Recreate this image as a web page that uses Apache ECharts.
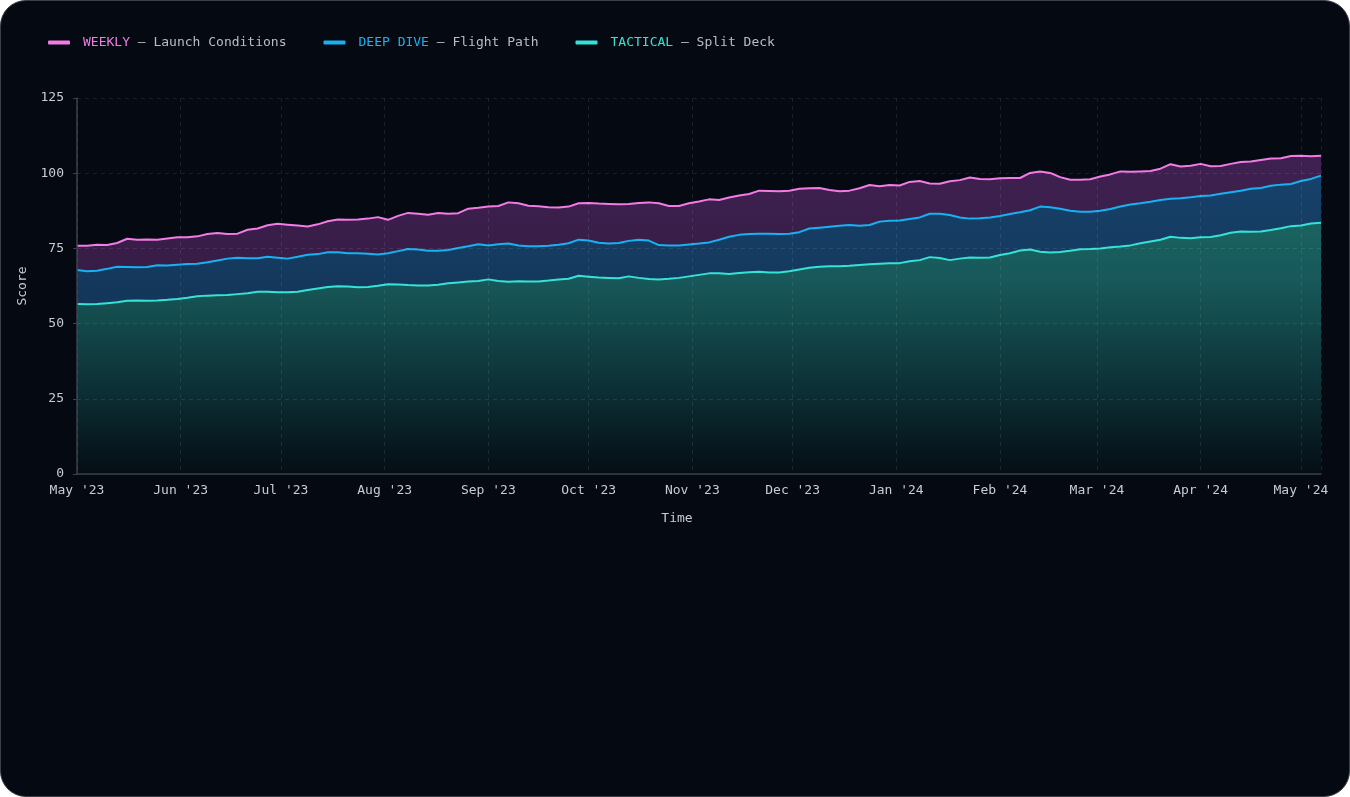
<!DOCTYPE html>
<html>
<head>
<meta charset="utf-8">
<title>Score over time</title>
<script src="https://cdn.jsdelivr.net/npm/echarts/dist/echarts.min.js"></script>
<style>
  html, body { margin: 0; padding: 0; background: #ffffff; }
  #card {
    width: 1350px; height: 797px; box-sizing: border-box;
    border-radius: 26px; border: 1px solid #3a3f48;
    background: #040912; overflow: hidden;
  }
  #main { width: 100%; height: 100%; }
</style>
</head>
<body>
<div id="card"><div id="main"></div></div>
<script>
// one reading every 3 days, starting 1 May 2023
var startYear = 2023, startMonth = 4, startDay = 1;
var stepDays = 3;

var weeklyScores = [
  75.9, 75.9, 76.2, 76.1, 76.8, 78.2, 77.9, 78.0, 77.9, 78.3, 78.7, 78.7, 79.0, 79.8, 80.1, 79.8,
  79.9, 81.2, 81.6, 82.7, 83.2, 82.9, 82.6, 82.3, 83.0, 84.0, 84.6, 84.5, 84.6, 84.9, 85.4, 84.5,
  85.8, 86.8, 86.5, 86.2, 86.8, 86.5, 86.7, 88.2, 88.5, 88.9, 89.1, 90.3, 90.0, 89.2, 89.0, 88.7,
  88.6, 88.9, 90.0, 90.1, 89.9, 89.8, 89.7, 89.8, 90.1, 90.3, 90.0, 89.1, 89.1, 90.0, 90.6,
  91.3, 91.1, 91.9, 92.6, 93.1, 94.2, 94.1, 94.0, 94.2, 94.8, 95.0, 95.1, 94.4, 94.0, 94.2, 95.0,
  96.1, 95.7, 96.1, 95.9, 97.1, 97.4, 96.6, 96.5, 97.3, 97.7, 98.6, 98.1, 98.0, 98.3, 98.4,
  98.4, 100.1, 100.6, 100.1, 98.7, 97.8, 97.8, 98.0, 98.9, 99.6, 100.6, 100.5, 100.6, 100.7, 101.5, 103.0,
  102.2, 102.5, 103.1, 102.3, 102.4, 103.1, 103.7, 103.9, 104.4, 104.9, 105.0, 105.7, 105.8, 105.6, 105.8
];
var deepDiveScores = [
  67.8, 67.4, 67.6, 68.2, 68.9, 68.8, 68.7, 68.8, 69.4, 69.3, 69.6, 69.8, 69.9, 70.4, 71.0, 71.6,
  71.9, 71.7, 71.7, 72.2, 71.9, 71.6, 72.2, 72.9, 73.1, 73.7, 73.7, 73.4, 73.4, 73.2, 73.0, 73.4,
  74.1, 74.8, 74.6, 74.2, 74.2, 74.5, 75.1, 75.7, 76.4, 76.0, 76.4, 76.6, 76.0, 75.7, 75.7, 75.9,
  76.2, 76.7, 77.9, 77.6, 76.9, 76.6, 76.8, 77.5, 77.9, 77.6, 76.1, 76.0, 76.0, 76.3, 76.6,
  77.0, 77.9, 78.9, 79.5, 79.8, 79.9, 79.9, 79.8, 79.9, 80.4, 81.6, 81.9, 82.2, 82.5, 82.8, 82.5,
  82.8, 83.9, 84.2, 84.3, 84.8, 85.3, 86.5, 86.5, 86.1, 85.3, 84.9, 85.0, 85.3, 85.8, 86.4,
  87.0, 87.7, 88.9, 88.7, 88.2, 87.5, 87.2, 87.2, 87.5, 88.1, 88.9, 89.6, 90.0, 90.5, 91.1, 91.5,
  91.7, 92.0, 92.4, 92.6, 93.2, 93.7, 94.2, 94.8, 95.1, 95.8, 96.2, 96.4, 97.4, 98.1, 99.2
];
var tacticalScores = [
  56.5, 56.4, 56.5, 56.8, 57.1, 57.6, 57.7, 57.6, 57.7, 57.9, 58.2, 58.6, 59.1, 59.3, 59.4, 59.5,
  59.8, 60.1, 60.6, 60.6, 60.4, 60.4, 60.6, 61.2, 61.7, 62.2, 62.4, 62.3, 62.1, 62.2, 62.6, 63.1,
  63.0, 62.8, 62.7, 62.7, 62.9, 63.4, 63.7, 64.0, 64.2, 64.7, 64.2, 63.9, 64.1, 64.0, 64.0, 64.3,
  64.7, 64.9, 65.9, 65.6, 65.3, 65.2, 65.1, 65.7, 65.2, 64.8, 64.7, 64.9, 65.2, 65.7, 66.2,
  66.7, 66.7, 66.5, 66.8, 67.1, 67.2, 67.0, 67.0, 67.4, 68.0, 68.6, 68.9, 69.1, 69.1, 69.2, 69.5,
  69.7, 69.9, 70.1, 70.1, 70.7, 71.1, 72.1, 71.8, 71.1, 71.6, 72.0, 71.9, 72.0, 72.8, 73.4,
  74.3, 74.6, 73.9, 73.6, 73.8, 74.2, 74.7, 74.8, 75.0, 75.4, 75.6, 76.0, 76.7, 77.3, 77.9, 78.9,
  78.5, 78.4, 78.7, 78.8, 79.4, 80.2, 80.6, 80.5, 80.6, 81.1, 81.7, 82.4, 82.6, 83.3, 83.5
];

var seriesNames = ['WEEKLY', 'DEEP DIVE', 'TACTICAL'];
var seriesSubtitles = ['Launch Conditions', 'Flight Path', 'Split Deck'];
var seriesColors = ['#f47be6', '#17b2f2', '#35e3d6'];
var monthNames = ['Jan', 'Feb', 'Mar', 'Apr', 'May', 'Jun', 'Jul', 'Aug', 'Sep', 'Oct', 'Nov', 'Dec'];
var yTicks = { min: 0, max: 125, step: 25 };

// area fills, top of the band to the floor of the grid
var areaStops = [
  [[0, '#3f2151'], [0.4, '#361c45'], [1, '#1a0f22']],
  [[0, '#17426b'], [0.45, '#133659'], [1, '#0a1a2c']],
  [[0, '#1a6361'], [0.23, '#18585a'], [0.43, '#124648'], [0.71, '#0b2b31'], [0.9, '#07171e'], [1, '#050d14']]
];

var dates = [];
for (var k = 0; k < weeklyScores.length; k++) {
  dates.push(new Date(startYear, startMonth, startDay + k * stepDays).getTime());
}

function pairUp(values) {
  return values.map(function (v, i) { return [dates[i], v]; });
}

var fontFamily = '"DejaVu Sans Mono", monospace';
var labelColor = '#c8ccd4';
var gridLine = { show: true, lineStyle: { color: 'rgba(255,255,255,0.09)', type: [4, 4], width: 1 } };

var allValues = [weeklyScores, deepDiveScores, tacticalScores];

var series = seriesNames.map(function (name, i) {
  return {
    name: name,
    type: 'line',
    data: pairUp(allValues[i]),
    showSymbol: false,
    symbol: 'none',
    lineStyle: { color: seriesColors[i], width: 2 },
    itemStyle: { color: seriesColors[i] },
    areaStyle: {
      opacity: 1,
      color: new echarts.graphic.LinearGradient(0, 0, 0, 1, areaStops[i].map(function (s) {
        return { offset: s[0], color: s[1] };
      }))
    },
    z: 2 + i
  };
});

var richStyles = { s: { color: '#b9bdc6', fontFamily: fontFamily, fontSize: 13 } };
seriesNames.forEach(function (n, i) {
  richStyles['n' + i] = { color: seriesColors[i], fontFamily: fontFamily, fontSize: 13 };
});

var chart = echarts.init(document.getElementById('main'));
chart.setOption({
  backgroundColor: 'transparent',
  animation: false,
  textStyle: { fontFamily: fontFamily },
  legend: {
    top: 30,
    left: 42,
    itemWidth: 22,
    itemHeight: 4,
    itemGap: 37,
    icon: 'roundRect',
    data: seriesNames,
    formatter: function (name) {
      var i = seriesNames.indexOf(name);
      return '{n' + i + '|' + name + '}{s| \u2013 ' + seriesSubtitles[i] + '}';
    },
    textStyle: { padding: [0, 0, 0, 8], rich: richStyles }
  },
  grid: {
    left: 76, right: 28, top: 97, bottom: 322,
    outerBoundsMode: 'none'
  },
  xAxis: {
    type: 'time',
    z: 10,
    min: dates[0],
    max: dates[dates.length - 1],
    splitNumber: 12,
    minInterval: 28 * 86400000,
    name: 'Time',
    nameLocation: 'middle',
    nameGap: 38,
    nameTextStyle: { color: labelColor, fontSize: 13, fontFamily: fontFamily, padding: [0, 44, 0, 0] },
    axisLine: { show: true, lineStyle: { color: '#3b404b', width: 1.5 } },
    axisTick: { show: false },
    axisLabel: {
      color: labelColor, fontSize: 13, margin: 10, fontFamily: fontFamily,
      showMinLabel: true, showMaxLabel: false, hideOverlap: false,
      formatter: function (value) {
        var d = new Date(value);
        return monthNames[d.getMonth()] + " '" + String(d.getFullYear()).slice(2);
      }
    },
    splitLine: gridLine
  },
  yAxis: {
    type: 'value',
    z: 10,
    min: yTicks.min,
    max: yTicks.max,
    interval: yTicks.step,
    name: 'Score',
    nameLocation: 'middle',
    nameGap: 48,
    nameTextStyle: { color: labelColor, fontSize: 13, fontFamily: fontFamily },
    axisLine: { show: true, lineStyle: { color: '#3b404b', width: 1.5 } },
    axisTick: { show: true, length: 4, lineStyle: { color: '#3b404b' } },
    axisLabel: { color: labelColor, fontSize: 13, margin: 13, fontFamily: fontFamily },
    splitLine: gridLine
  },
  series: series
});
</script>
</body>
</html>
